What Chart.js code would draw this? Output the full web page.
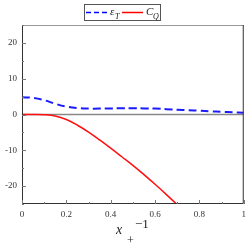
<!DOCTYPE html>
<html><head><meta charset="utf-8">
<script src="https://cdn.jsdelivr.net/npm/chart.js@4/dist/chart.umd.min.js"></script>
<style>html,body{margin:0;padding:0;background:#fff;}#c{display:block;}</style>
</head><body>
<div style="width:251px;height:251px"><canvas id="c" width="251" height="251"></canvas></div>
<script>
const xValues = [0,0.05,0.1,0.15,0.2,0.25,0.3,0.35,0.4,0.45,0.5,0.55,0.6,0.65,0.7,0.75,0.8,0.85,0.9,0.95,1];
const epsT = [4.8,4.65,4.0,3.0,2.2,1.8,1.65,1.65,1.7,1.75,1.75,1.7,1.65,1.5,1.35,1.2,1.05,0.9,0.75,0.6,0.5];
const cQ = [0,0,-0.05,-0.4,-1.4,-3.0,-4.9,-7.1,-9.4,-11.8,-14.2,-16.8,-19.5,-22.3,-25.2];
const xTicks = [0,0.2,0.4,0.6,0.8,1];
const yTicks = [-20,-10,0,10,20];
const seriesNames = ['ε', 'C'];
const seriesSubs = ['T', 'Q'];

const pts = (ys) => ys.map((y,i)=>({x:xValues[i], y:y}));

const decor = {
  id:'decor',
  beforeDatasetsDraw(chart){
    const {ctx, chartArea:a, scales:{y}} = chart;
    ctx.save();
    ctx.strokeStyle='#888'; ctx.lineWidth=1.5;
    const y0 = y.getPixelForValue(0);
    ctx.beginPath(); ctx.moveTo(a.left,y0); ctx.lineTo(a.right,y0); ctx.stroke();
    ctx.restore();
  },
  afterDraw(chart){
    const {ctx, chartArea:a, scales:{x,y}} = chart;
    ctx.save();
    ctx.lineWidth=1;
    ctx.strokeStyle='#999';
    ctx.beginPath(); ctx.moveTo(a.left,a.top+0.5); ctx.lineTo(a.right,a.top+0.5); ctx.stroke();
    ctx.strokeStyle='#333';
    ctx.beginPath();
    ctx.moveTo(a.left+0.5,a.top); ctx.lineTo(a.left+0.5,a.bottom-0.5); ctx.lineTo(a.right-0.5,a.bottom-0.5); ctx.lineTo(a.right-0.5,a.top);
    ctx.stroke();
    ctx.strokeStyle='#777';
    for(let v=-25; v<=25; v+=5){
      const p = Math.round(y.getPixelForValue(v))+0.5;
      const len = (v%10===0)?4:2;
      ctx.beginPath(); ctx.moveTo(a.left,p); ctx.lineTo(a.left+len,p); ctx.stroke();
    }
    for(let i=0;i<=10;i++){
      const v=i/10;
      const p = Math.round(x.getPixelForValue(v))+0.5;
      const len = (i%2===0)?4:2;
      ctx.beginPath(); ctx.moveTo(p,a.bottom); ctx.lineTo(p,a.bottom-len); ctx.stroke();
    }
    // legend box
    ctx.strokeStyle='#555'; ctx.lineWidth=1;
    ctx.strokeRect(84.5,4.5,76,16);
    ctx.lineWidth=1.5;
    ctx.strokeStyle='#0000ff'; ctx.setLineDash([5,3]);
    ctx.beginPath(); ctx.moveTo(86,12.5); ctx.lineTo(107,12.5); ctx.stroke();
    ctx.setLineDash([]);
    ctx.strokeStyle='#ff0000';
    ctx.beginPath(); ctx.moveTo(122,12.5); ctx.lineTo(143,12.5); ctx.stroke();
    ctx.fillStyle='#222';
    ctx.textBaseline='alphabetic';
    ctx.font='italic 11px "Liberation Serif"';
    ctx.fillText(seriesNames[0],110,15);
    ctx.fillText(seriesNames[1],146,15);
    ctx.font='italic 8px "Liberation Serif"';
    ctx.fillText(seriesSubs[0],115,19);
    ctx.fillText(seriesSubs[1],153,19);
    // axis title
    ctx.font='italic 14px "Liberation Serif"';
    ctx.fillText('x',116,234);
    ctx.font='12px "Liberation Serif"';
    ctx.fillText('+',127,244);
    ctx.font='13px "Liberation Serif"';
    ctx.fillText('−1',135,228);
    ctx.restore();
  }
};

new Chart(document.getElementById('c'), {
  type:'line',
  data:{datasets:[
    {label:'εT', data:pts(epsT), borderColor:'#1a1aff', borderWidth:2, borderDash:[8,4], pointRadius:0, tension:0.4, fill:false},
    {label:'CQ', data:pts(cQ), borderColor:'#ff1010', borderWidth:1.5, pointRadius:0, tension:0.4, fill:false}
  ]},
  plugins:[decor],
  options:{
    responsive:false, animation:false, devicePixelRatio:1,
    layout:{padding:{top:25,right:4,left:0,bottom:0}},
    plugins:{legend:{display:false}, tooltip:{enabled:false}},
    scales:{
      x:{type:'linear', min:0, max:1,
        afterFit(s){s.height=47;},
        afterBuildTicks(s){s.ticks=xTicks.map(v=>({value:v}));},
        grid:{display:false, drawTicks:false}, border:{display:false},
        ticks:{color:'#333', font:{family:'Liberation Serif', size:9}, padding:5, maxRotation:0,
          callback:(v)=>String(v)}},
      y:{type:'linear', min:-25, max:25,
        afterFit(s){s.width=22;},
        afterBuildTicks(s){s.ticks=yTicks.map(v=>({value:v}));},
        grid:{display:false, drawTicks:false}, border:{display:false},
        ticks:{color:'#333', font:{family:'Liberation Serif', size:9}, padding:5,
          callback:(v)=>String(v)}}
    }
  }
});
</script>
</body></html>
